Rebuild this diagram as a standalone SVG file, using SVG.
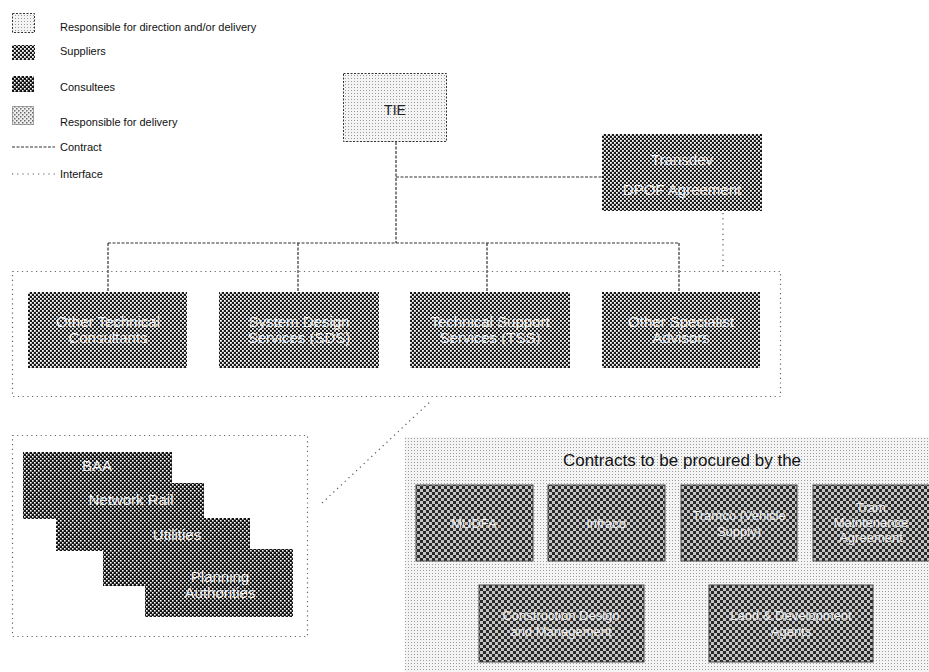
<svg xmlns="http://www.w3.org/2000/svg" width="929" height="672" viewBox="0 0 929 672">
<defs>
<pattern id="pDark" width="4" height="4" patternUnits="userSpaceOnUse">
<rect width="4" height="4" fill="#1a1a1a"/>
<rect x="0" y="0" width="1.8" height="1.8" fill="#fff"/>
<rect x="2" y="2" width="1.8" height="1.8" fill="#fff"/>
</pattern>
<pattern id="pDarker" width="4" height="4" patternUnits="userSpaceOnUse">
<rect width="4" height="4" fill="#111"/>
<rect x="0" y="0" width="1.6" height="1.6" fill="#fff"/>
<rect x="2" y="2" width="1.6" height="1.6" fill="#fff"/>
</pattern>
<pattern id="pMid" width="6" height="6" patternUnits="userSpaceOnUse">
<rect width="6" height="6" fill="#c4c4c4"/>
<rect x="0" y="0" width="3" height="3" fill="#2a2a2a"/>
<rect x="3" y="3" width="3" height="3" fill="#2a2a2a"/>
</pattern>
<pattern id="pLight" width="3" height="3" patternUnits="userSpaceOnUse">
<rect width="3" height="3" fill="#f4f4f4"/>
<rect x="0" y="0" width="1" height="1" fill="#9a9a9a"/>
</pattern>
<pattern id="pLightChk" width="4" height="4" patternUnits="userSpaceOnUse">
<rect width="4" height="4" fill="#f0f0f0"/>
<rect x="0" y="0" width="1.5" height="1.5" fill="#666"/>
<rect x="2" y="2" width="1.5" height="1.5" fill="#666"/>
</pattern>
</defs>
<style>
text { font-family: "Liberation Sans", Arial, sans-serif; }
.leg { font-size: 11px; fill: #111; }
.wt { font-size: 15px; fill: #f2f2f2; text-anchor: middle; }
.wt2 { font-size: 13px; fill: #eeeeee; text-anchor: middle; }
.dark { fill: url(#pDark); }
.contract { fill: none; stroke: #333; stroke-width: 1.2; stroke-dasharray: 3 1.5; }
.iface { fill: none; stroke: #555; stroke-width: 1.2; stroke-dasharray: 1.2 4; }
.grp { fill: none; stroke: #666; stroke-width: 1.2; stroke-dasharray: 1.2 3.5; }
.cbox { fill: url(#pMid); stroke: #444; stroke-width: 1; }
</style>
<rect width="929" height="672" fill="#fff"/>

<g id="legend">
<rect x="12.5" y="13.5" width="22" height="19" fill="url(#pLight)" stroke="#333" stroke-dasharray="2 1.5"/>
<text class="leg" x="60" y="31">Responsible for direction and/or delivery</text>
<rect x="12" y="45" width="23" height="15" fill="url(#pDark)"/>
<text class="leg" x="60" y="55">Suppliers</text>
<rect x="12" y="76" width="22" height="16" fill="url(#pDarker)"/>
<text class="leg" x="60" y="91">Consultees</text>
<rect x="12.5" y="106.5" width="21" height="18" fill="url(#pLightChk)" stroke="#555" stroke-dasharray="1 1"/>
<text class="leg" x="60" y="126">Responsible for delivery</text>
<line class="contract" x1="12" y1="147" x2="55" y2="147"/>
<text class="leg" x="60" y="151">Contract</text>
<line class="iface" x1="12" y1="174" x2="55" y2="174"/>
<text class="leg" x="60" y="178">Interface</text>
</g>

<g id="connectors">
<line class="contract" x1="396" y1="142" x2="396" y2="243"/>
<line class="contract" x1="396" y1="177" x2="602" y2="177"/>
<line class="contract" x1="108" y1="243" x2="679" y2="243"/>
<line class="contract" x1="108" y1="243" x2="108" y2="292"/>
<line class="contract" x1="298" y1="243" x2="298" y2="292"/>
<line class="contract" x1="487" y1="243" x2="487" y2="292"/>
<line class="contract" x1="679" y1="243" x2="679" y2="292"/>
<line class="iface" x1="723" y1="213" x2="723" y2="271"/>
<line class="iface" x1="322" y1="503" x2="432" y2="400"/>
</g>

<g id="tie">
<rect x="343.5" y="73.5" width="103" height="68" fill="url(#pLight)" stroke="#333" stroke-dasharray="2 1.5"/>
<text x="395" y="115" font-size="14" fill="#222" text-anchor="middle">TIE</text>
</g>

<g id="transdev">
<rect x="602" y="134" width="160" height="77" class="dark"/>
<text class="wt" x="682" y="165">Transdev</text>
<text class="wt" x="682" y="195">DPOF Agreement</text>
</g>

<g id="advisors-group">
<rect x="12.5" y="271.5" width="768" height="125" class="grp"/>
</g>
<g id="other-technical">
<rect x="28" y="292" width="159" height="76" class="dark"/>
<text class="wt" x="108" y="327">Other Technical</text>
<text class="wt" x="108" y="343">Consultants</text>
</g>
<g id="sds">
<rect x="219" y="292" width="160" height="76" class="dark"/>
<text class="wt" x="299" y="327">System Design</text>
<text class="wt" x="299" y="343">Services (SDS)</text>
</g>
<g id="tss">
<rect x="410" y="292" width="160" height="76" class="dark"/>
<text class="wt" x="490" y="327">Technical Support</text>
<text class="wt" x="490" y="343">Services (TSS)</text>
</g>
<g id="specialist">
<rect x="602" y="292" width="158" height="76" class="dark"/>
<text class="wt" x="681" y="327">Other Specialist</text>
<text class="wt" x="681" y="343">Advisors</text>
</g>

<g id="consultees-group">
<rect x="12.5" y="435.5" width="295" height="201" class="grp"/>
</g>
<g id="baa">
<rect x="23" y="452" width="149" height="67" fill="url(#pDarker)"/>
<text class="wt" x="97" y="471">BAA</text>
</g>
<g id="network-rail">
<rect x="56" y="483" width="148" height="68" fill="url(#pDarker)"/>
<text class="wt" x="131" y="505">Network Rail</text>
</g>
<g id="utilities">
<rect x="103" y="518" width="147" height="68" fill="url(#pDarker)"/>
<text class="wt" x="177" y="540">Utilities</text>
</g>
<g id="planning">
<rect x="145" y="549" width="148" height="68" fill="url(#pDarker)"/>
<text class="wt" x="220" y="582">Planning</text>
<text class="wt" x="220" y="598">Authorities</text>
</g>

<g id="contracts-group">
<rect x="405" y="437" width="524" height="235" fill="url(#pLight)"/>
<text x="682" y="466" font-size="17" fill="#111" text-anchor="middle">Contracts to be procured by the</text>
</g>
<g id="mudfa">
<rect x="416" y="485" width="117" height="76" class="cbox"/>
<text class="wt2" x="474" y="528">MUDFA</text>
</g>
<g id="infraco">
<rect x="548" y="485" width="117" height="76" class="cbox"/>
<text class="wt2" x="606" y="528">Infraco</text>
</g>
<g id="tramco">
<rect x="681" y="485" width="116" height="76" class="cbox"/>
<text class="wt2" x="739" y="520">Tramco (Vehicle</text>
<text class="wt2" x="739" y="536">Supply)</text>
</g>
<g id="maintenance">
<rect x="813" y="485" width="117" height="76" class="cbox"/>
<text class="wt2" x="871" y="512">Tram</text>
<text class="wt2" x="871" y="527">Maintenance</text>
<text class="wt2" x="871" y="542">Agreement</text>
</g>
<g id="construction">
<rect x="479" y="585" width="165" height="77" class="cbox"/>
<text class="wt2" x="561" y="620">Construction Design</text>
<text class="wt2" x="561" y="636">and Management</text>
</g>
<g id="land">
<rect x="709" y="585" width="164" height="77" class="cbox"/>
<text class="wt2" x="791" y="620">Land &amp; Development</text>
<text class="wt2" x="791" y="636">Agents</text>
</g>
</svg>
